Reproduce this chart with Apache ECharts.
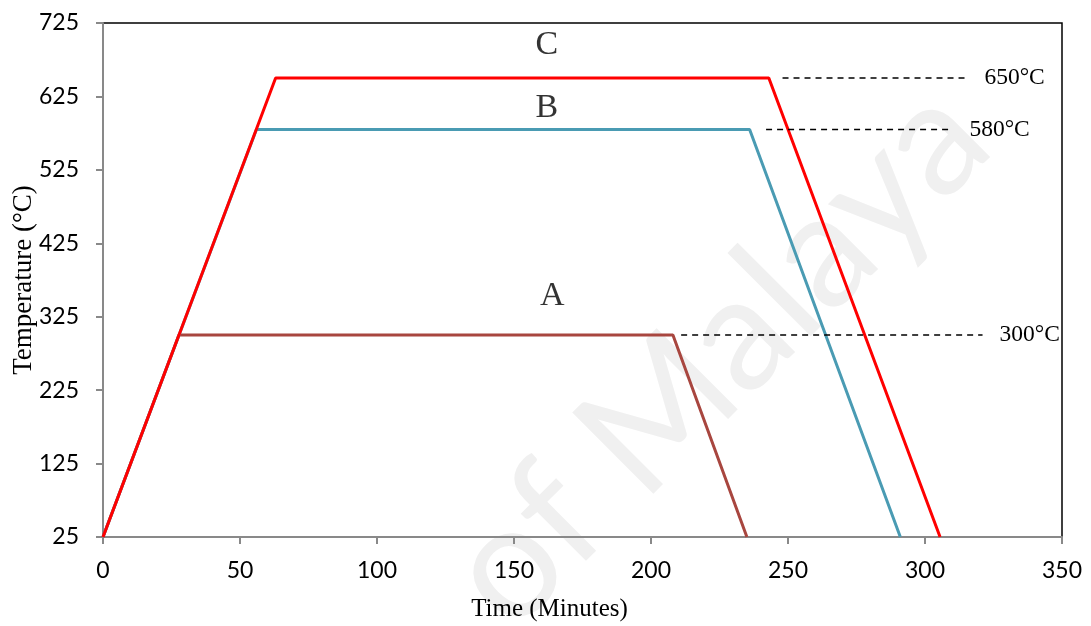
<!DOCTYPE html>
<html>
<head>
<meta charset="utf-8">
<script src="https://cdn.jsdelivr.net/npm/echarts@6/dist/echarts.min.js"></script>
<style>
  html, body { margin: 0; padding: 0; background: #fff; }
</style>
</head>
<body>
<!-- 图表容器 -->
<div id="myChart" style="width:1091px;height:626px;"></div>
<script>
// x: time in minutes, y: temperature in °C
var curveA = [[0, 25], [27.7, 300], [208, 300], [235, 25]];
var curveB = [[0, 25], [56, 580], [236, 580], [291, 25]];
var curveC = [[0, 25], [63, 650], [243, 650], [305.5, 25]];

// dashed reference lines with their temperature text
var refLines = [
  { y: 650, from: 248, to: 315.5, text: '650°C' },
  { y: 580, from: 242, to: 310, text: '580°C' },
  { y: 300, from: 211, to: 321, text: '300°C' },
];

// curve names shown above each plateau
var curveLetters = [[162, 695, 'C'], [162, 609, 'B'], [164, 353, 'A']];

var yTicks = [25, 125, 225, 325, 425, 525, 625, 725];

var myChart = echarts.init(document.getElementById('myChart'));

function curve(name, data, color) {
  return {
    name: name,
    type: 'line',
    data: data,
    symbol: 'none',
    silent: true,
    lineStyle: { color: color, width: 3 },
  };
}

var series = [
  curve('A', curveA, '#a8463f'),
  curve('B', curveB, '#4a9bb3'),
  curve('C', curveC, '#ff0000'),
];

// 虚线 + 右侧温度文字
refLines.forEach(function (r) {
  series.push({
    type: 'line',
    symbol: 'none',
    silent: true,
    lineStyle: { color: '#000', width: 1.5, type: [6, 5] },
    data: [[r.from, r.y], [r.to, r.y]],
    endLabel: {
      show: true,
      distance: 17,
      formatter: r.text,
      fontFamily: 'Liberation Serif',
      fontSize: 23.5,
      color: '#000',
    },
    z: 3,
  });
});

// A / B / C
series.push({
  type: 'scatter',
  symbolSize: 0,
  silent: true,
  data: curveLetters.map(function (p) {
    return { value: [p[0], p[1]], name: p[2] };
  }),
  label: {
    show: true,
    position: 'inside',
    formatter: '{b}',
    fontFamily: 'Liberation Serif',
    fontSize: 34,
    color: '#000',
  },
});

var option = {
  animation: false,
  backgroundColor: '#fff',
  grid: {
    left: 103,
    right: 29,
    top: 23,
    bottom: 89,
    outerBoundsMode: 'none',
    show: true,
    borderColor: '#000',
    borderWidth: 1.5,
  },
  graphic: [
    {
      type: 'text',
      x: 718,
      y: 356,
      rotation: Math.PI / 4,
      z: 0,
      silent: true,
      style: {
        text: 'of Malaya',
        fontFamily: 'Lato',
        fontSize: 160,
        fill: '#f0f0f0',
        align: 'center',
        verticalAlign: 'middle',
      },
    },
  ],
  xAxis: {
    type: 'value',
    min: 0,
    max: 350,
    interval: 50,
    name: 'Time (Minutes)',
    nameLocation: 'middle',
    nameGap: 60,
    nameMoveOverlap: false,
    nameTextStyle: { fontFamily: 'Liberation Serif', fontSize: 25, color: '#000', padding: [0, 66, 0, 0] },
    splitLine: { show: false },
    axisLine: { lineStyle: { color: '#898989', width: 2 } },
    axisTick: { length: 7, lineStyle: { color: '#898989', width: 2 } },
    axisLabel: { margin: 22, fontFamily: 'Lato', fontSize: 23, color: '#000' },
  },
  yAxis: {
    type: 'value',
    min: 25,
    max: 725,
    name: 'Temperature (°C)',
    nameLocation: 'middle',
    nameGap: 66,
    nameMoveOverlap: false,
    nameTextStyle: { fontFamily: 'Liberation Serif', fontSize: 27, color: '#000' },
    splitLine: { show: false },
    axisLine: { lineStyle: { color: '#898989', width: 2 } },
    axisTick: { length: 7, customValues: yTicks, lineStyle: { color: '#898989', width: 2 } },
    axisLabel: { margin: 24, customValues: yTicks, fontFamily: 'Lato', fontSize: 23, color: '#000' },
  },
  series: series,
};

option && myChart.setOption(option);
</script>
</body>
</html>
